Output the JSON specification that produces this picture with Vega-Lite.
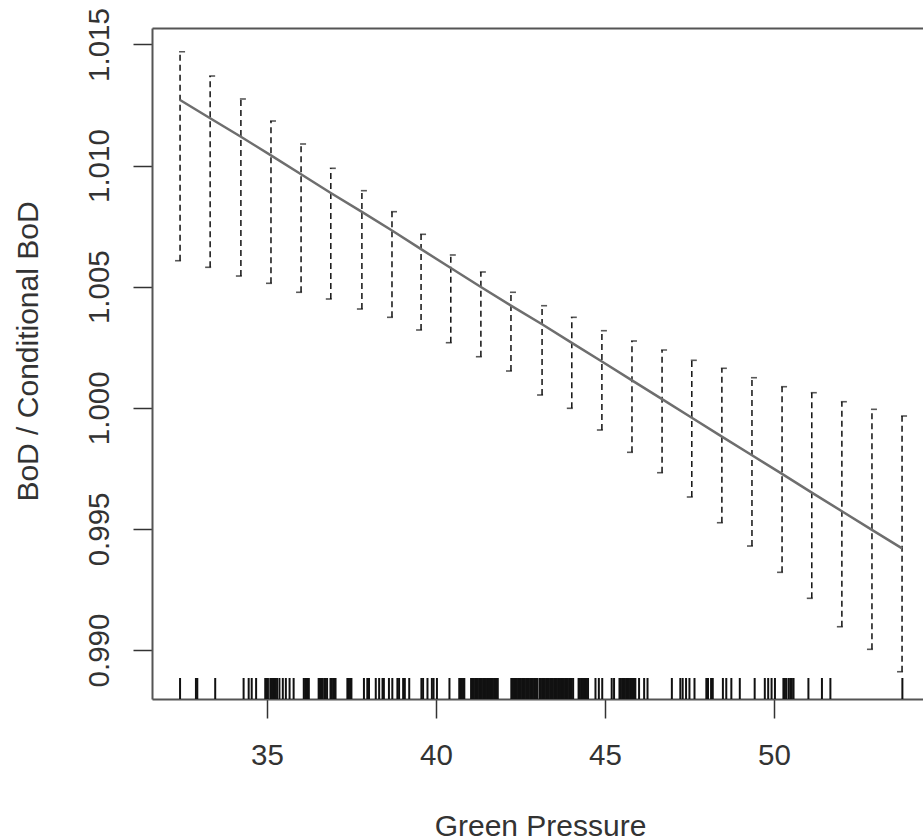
{
  "$schema": "https://vega.github.io/schema/vega-lite/v6.json",
  "width": 771,
  "height": 671,
  "autosize": {"type": "none"},
  "padding": {"left": 152, "top": 28, "right": 0, "bottom": 141},
  "background": "white",
  "config": {
    "view": {"stroke": null},
    "axis": {
      "grid": false,
      "labelFont": "Liberation Sans",
      "titleFont": "Liberation Sans",
      "titleFontWeight": "normal",
      "labelColor": "#333",
      "titleColor": "#333",
      "domainColor": "#555",
      "domainWidth": 2,
      "tickColor": "#333",
      "tickWidth": 1.5
    }
  },
  "datasets": {
    "bars": [
      {"gp": 32.43, "lower": 1.006073, "upper": 1.014703, "fit": 1.012708},
      {"gp": 33.32, "lower": 1.005801, "upper": 1.013699, "fit": 1.011955},
      {"gp": 34.23, "lower": 1.005441, "upper": 1.01275, "fit": 1.011190},
      {"gp": 35.12, "lower": 1.00514, "upper": 1.011841, "fit": 1.010420},
      {"gp": 36.01, "lower": 1.004769, "upper": 1.010892, "fit": 1.009640},
      {"gp": 36.89, "lower": 1.004492, "upper": 1.009888, "fit": 1.008870},
      {"gp": 37.81, "lower": 1.004079, "upper": 1.008964, "fit": 1.008090},
      {"gp": 38.7, "lower": 1.003736, "upper": 1.008097, "fit": 1.007320},
      {"gp": 39.56, "lower": 1.003212, "upper": 1.007163, "fit": 1.006550},
      {"gp": 40.44, "lower": 1.002688, "upper": 1.006309, "fit": 1.005770},
      {"gp": 41.33, "lower": 1.002109, "upper": 1.005607, "fit": 1.004990},
      {"gp": 42.22, "lower": 1.001519, "upper": 1.004769, "fit": 1.004220},
      {"gp": 43.14, "lower": 1.000528, "upper": 1.004215, "fit": 1.003450},
      {"gp": 44.02, "lower": 0.999979, "upper": 1.003736, "fit": 1.002680},
      {"gp": 44.91, "lower": 0.999083, "upper": 1.003183, "fit": 1.001910},
      {"gp": 45.8, "lower": 0.998162, "upper": 1.002758, "fit": 1.001130},
      {"gp": 46.69, "lower": 0.99732, "upper": 1.002386, "fit": 1.000360},
      {"gp": 47.57, "lower": 0.996317, "upper": 1.001961, "fit": 0.999590},
      {"gp": 48.46, "lower": 0.995255, "upper": 1.001631, "fit": 0.998810},
      {"gp": 49.35, "lower": 0.994293, "upper": 1.001242, "fit": 0.998040},
      {"gp": 50.24, "lower": 0.993207, "upper": 1.000871, "fit": 0.997270},
      {"gp": 51.12, "lower": 0.992134, "upper": 1.000623, "fit": 0.996500},
      {"gp": 52.01, "lower": 0.990961, "upper": 1.000251, "fit": 0.995730},
      {"gp": 52.9, "lower": 0.990028, "upper": 0.999937, "fit": 0.994960},
      {"gp": 53.79, "lower": 0.989103, "upper": 0.999661, "fit": 0.994198}
    ],
    "rug": [
      {"gp": 32.43}, {"gp": 32.9}, {"gp": 32.94}, {"gp": 33.47}, {"gp": 34.31}, {"gp": 34.46}, {"gp": 34.55}, {"gp": 34.68},
      {"gp": 34.95}, {"gp": 34.99}, {"gp": 35.03}, {"gp": 35.1}, {"gp": 35.14}, {"gp": 35.18}, {"gp": 35.22}, {"gp": 35.26}, {"gp": 35.3},
      {"gp": 35.37}, {"gp": 35.47}, {"gp": 35.56}, {"gp": 35.67}, {"gp": 35.79},
      {"gp": 36.09}, {"gp": 36.13}, {"gp": 36.17}, {"gp": 36.21}, {"gp": 36.24},
      {"gp": 36.53}, {"gp": 36.57}, {"gp": 36.61}, {"gp": 36.65}, {"gp": 36.7}, {"gp": 36.74}, {"gp": 36.78},
      {"gp": 36.88}, {"gp": 36.92}, {"gp": 36.96}, {"gp": 37.0}, {"gp": 37.03},
      {"gp": 37.38}, {"gp": 37.42}, {"gp": 37.46}, {"gp": 37.5},
      {"gp": 37.87}, {"gp": 37.97}, {"gp": 38.02}, {"gp": 38.22}, {"gp": 38.32}, {"gp": 38.42}, {"gp": 38.46}, {"gp": 38.61}, {"gp": 38.71}, {"gp": 38.86}, {"gp": 38.91}, {"gp": 39.03}, {"gp": 39.08}, {"gp": 39.21},
      {"gp": 39.57}, {"gp": 39.62}, {"gp": 39.75}, {"gp": 39.88}, {"gp": 39.93}, {"gp": 40.03}, {"gp": 40.4},
      {"gp": 40.69}, {"gp": 40.73}, {"gp": 40.77}, {"gp": 40.81}, {"gp": 40.84},
      {"gp": 41.04}, {"gp": 41.08}, {"gp": 41.12}, {"gp": 41.16}, {"gp": 41.2}, {"gp": 41.24}, {"gp": 41.28}, {"gp": 41.32}, {"gp": 41.36}, {"gp": 41.4}, {"gp": 41.44}, {"gp": 41.48}, {"gp": 41.52}, {"gp": 41.56}, {"gp": 41.6}, {"gp": 41.64}, {"gp": 41.68}, {"gp": 41.72}, {"gp": 41.76}, {"gp": 41.8}, {"gp": 41.83},
      {"gp": 42.23}, {"gp": 42.27}, {"gp": 42.31}, {"gp": 42.35}, {"gp": 42.39}, {"gp": 42.43}, {"gp": 42.47}, {"gp": 42.51}, {"gp": 42.55}, {"gp": 42.59}, {"gp": 42.63}, {"gp": 42.67}, {"gp": 42.71}, {"gp": 42.75}, {"gp": 42.79}, {"gp": 42.83}, {"gp": 42.87}, {"gp": 42.91}, {"gp": 42.95}, {"gp": 42.99},
      {"gp": 43.06}, {"gp": 43.1}, {"gp": 43.14}, {"gp": 43.18}, {"gp": 43.22}, {"gp": 43.26}, {"gp": 43.3}, {"gp": 43.34}, {"gp": 43.38}, {"gp": 43.42}, {"gp": 43.46}, {"gp": 43.5}, {"gp": 43.54}, {"gp": 43.58}, {"gp": 43.62}, {"gp": 43.66}, {"gp": 43.7}, {"gp": 43.74}, {"gp": 43.78}, {"gp": 43.82}, {"gp": 43.86}, {"gp": 43.9}, {"gp": 43.94}, {"gp": 43.98}, {"gp": 44.02}, {"gp": 44.06},
      {"gp": 44.22}, {"gp": 44.26}, {"gp": 44.3}, {"gp": 44.34}, {"gp": 44.38}, {"gp": 44.42}, {"gp": 44.46}, {"gp": 44.5},
      {"gp": 44.72}, {"gp": 44.82}, {"gp": 44.92}, {"gp": 45.2}, {"gp": 45.27},
      {"gp": 45.43}, {"gp": 45.47}, {"gp": 45.51}, {"gp": 45.55}, {"gp": 45.59}, {"gp": 45.63}, {"gp": 45.67}, {"gp": 45.71}, {"gp": 45.75}, {"gp": 45.79}, {"gp": 45.83}, {"gp": 45.87}, {"gp": 45.9},
      {"gp": 46.01}, {"gp": 46.16}, {"gp": 46.26},
      {"gp": 46.98}, {"gp": 47.23}, {"gp": 47.3}, {"gp": 47.4}, {"gp": 47.5}, {"gp": 47.65},
      {"gp": 48.0}, {"gp": 48.05}, {"gp": 48.14}, {"gp": 48.19},
      {"gp": 48.49}, {"gp": 48.59}, {"gp": 48.74}, {"gp": 48.99},
      {"gp": 49.43}, {"gp": 49.73}, {"gp": 49.83}, {"gp": 49.93}, {"gp": 50.03},
      {"gp": 50.28}, {"gp": 50.32}, {"gp": 50.36}, {"gp": 50.43}, {"gp": 50.48}, {"gp": 50.53}, {"gp": 50.58},
      {"gp": 51.02}, {"gp": 51.42}, {"gp": 51.67}, {"gp": 53.8}
    ]
  },
  "resolve": {"axis": {"x": "independent", "y": "independent"}},
  "layer": [
    {
      "data": {"name": "bars"},
      "mark": {"type": "rule", "color": "#111", "strokeWidth": 1.5, "strokeDash": [6, 4]},
      "encoding": {
        "x": {
          "field": "gp", "type": "quantitative",
          "scale": {"domain": [31.6, 54.41], "nice": false, "zero": false},
          "axis": {
            "orient": "bottom",
            "values": [35, 40, 45, 50],
            "title": "Green Pressure",
            "labelFontSize": 29.5,
            "titleFontSize": 30,
            "tickSize": 19,
            "labelPadding": 46,
            "labelBaseline": "alphabetic",
            "titleX": 388,
            "titleY": 136,
            "titleAlign": "center",
            "titleBaseline": "alphabetic"
          }
        },
        "y": {
          "field": "lower", "type": "quantitative",
          "scale": {"domain": [0.987977, 1.015681], "nice": false, "zero": false},
          "axis": {
            "orient": "left",
            "values": [0.99, 0.995, 1.0, 1.005, 1.01, 1.015],
            "format": ".3f",
            "title": "BoD / Conditional BoD",
            "labelFontSize": 29.5,
            "titleFontSize": 30,
            "tickSize": 19,
            "labelAngle": -90,
            "labelAlign": "center",
            "labelBaseline": "alphabetic",
            "labelPadding": 25,
            "titleAngle": -90,
            "titleX": -115,
            "titleY": 323,
            "titleAlign": "center",
            "titleBaseline": "alphabetic"
          }
        },
        "y2": {"field": "upper"}
      }
    },
    {
      "data": {"name": "bars"},
      "mark": {"type": "tick", "orient": "horizontal", "size": 6, "thickness": 1.6, "color": "#111", "xOffset": 2},
      "encoding": {
        "x": {"field": "gp", "type": "quantitative", "axis": null},
        "y": {"field": "upper", "type": "quantitative", "axis": null}
      }
    },
    {
      "data": {"name": "bars"},
      "mark": {"type": "tick", "orient": "horizontal", "size": 6, "thickness": 1.6, "color": "#111", "xOffset": -2},
      "encoding": {
        "x": {"field": "gp", "type": "quantitative", "axis": null},
        "y": {"field": "lower", "type": "quantitative", "axis": null}
      }
    },
    {
      "data": {"name": "rug"},
      "mark": {"type": "rule", "color": "#111", "strokeWidth": 2},
      "encoding": {
        "x": {"field": "gp", "type": "quantitative", "axis": null},
        "y": {"datum": 0.987977, "type": "quantitative", "axis": null},
        "y2": {"datum": 0.988844}
      }
    },
    {
      "data": {"name": "bars"},
      "mark": {"type": "line", "color": "#6e6e6e", "strokeWidth": 2.5},
      "encoding": {
        "x": {
          "field": "gp", "type": "quantitative",
          "axis": {"orient": "top", "labels": false, "ticks": false, "title": null, "domain": true}
        },
        "y": {"field": "fit", "type": "quantitative", "axis": null}
      }
    }
  ]
}
